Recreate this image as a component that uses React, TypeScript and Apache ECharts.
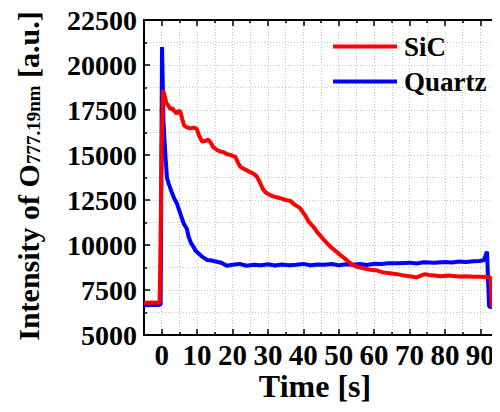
import React, { useEffect, useRef } from "react";
import * as echarts from "echarts";

const sicTime = [-5, -3, -1, -0.6, -0.4, 0, 0.4, 0.8, 1.3, 2, 2.5, 3, 3.5, 4.3, 4.8, 5.3, 5.8, 6.3, 7, 8, 9, 9.9, 10.5, 11.4, 12.3, 13.2, 13.8, 14.5, 15.6, 16.5, 17.5, 18.4, 19.5, 20.8, 21.5, 22.2, 23.5, 25, 26, 26.9, 27.8, 28.6, 29.5, 30.6, 31.5, 32.5, 33.5, 35, 36.3, 37.5, 39.1, 40.5, 41.5, 42.9, 44, 45.3, 46.7, 48, 49.2, 50.4, 51.4, 52.3, 53.5, 55, 57, 58.9, 60.5, 62.5, 64.5, 66.5, 68.5, 70.5, 72, 73, 74.3, 75.5, 77, 79, 81, 82.4, 84, 86, 88, 90, 91.9, 92.9, 93.3, 93.8, 94.4, 95];
const sicValue = [6780, 6800, 6790, 6800, 9000, 15500, 18600, 18300, 17900, 17700, 17550, 17600, 17450, 17300, 17450, 17400, 17000, 16650, 16550, 16480, 16520, 16450, 16100, 15750, 15780, 15850, 15700, 15450, 15280, 15200, 15150, 15050, 15000, 14900, 14600, 14350, 14200, 14050, 13950, 13800, 13450, 13100, 12900, 12780, 12700, 12650, 12600, 12500, 12450, 12250, 12050, 11650, 11300, 11000, 10700, 10400, 10100, 9850, 9650, 9450, 9300, 9150, 8950, 8800, 8700, 8620, 8600, 8480, 8430, 8380, 8300, 8250, 8200, 8280, 8380, 8330, 8300, 8260, 8300, 8280, 8250, 8270, 8240, 8230, 8220, 8200, 6600, 6520, 6620, 6650];

const quartzTime = [-5, -3, -1, -0.3, 0, 0.1, 0.3, 0.5, 1, 1.5, 2, 2.9, 3.5, 4.3, 5, 6.2, 7.1, 7.6, 8.3, 9, 9.5, 10.9, 11.4, 12.8, 13.7, 15.6, 17, 18.4, 20, 22, 24, 26, 28, 30, 32, 34, 36, 38, 40, 42, 44, 46, 48, 50, 52, 54, 56, 58, 60, 62, 64, 67, 70, 72, 74, 77, 80, 82, 84, 86, 88, 89.7, 91, 91.9, 92.2, 92.5, 93.5, 95];
const quartzValue = [6650, 6680, 6670, 6700, 18000, 21000, 19000, 16900, 15100, 13700, 13400, 12900, 12600, 12300, 11900, 11200, 10900, 10460, 10100, 9900, 9700, 9450, 9350, 9170, 9150, 9070, 9000, 8850, 8900, 8950, 8850, 8900, 8880, 8930, 8860, 8920, 8870, 8900, 8950, 8880, 8920, 8900, 8940, 8880, 8930, 8900, 8950, 8890, 8960, 8940, 8990, 8980, 9020, 8970, 9040, 9020, 9060, 9030, 9080, 9060, 9100, 9110, 9150, 9630, 8000, 6570, 6550, 6620];

const xTickLabels = [0, 10, 20, 30, 40, 50, 60, 70, 80, 90];
const yTickLabels = [5000, 7500, 10000, 12500, 15000, 17500, 20000, 22500];

const FONT = "Liberation Serif";

export default function App() {
  const ref = useRef<HTMLDivElement>(null);
  useEffect(() => {
    if (!ref.current) return;
    const chart = echarts.init(ref.current, undefined, { renderer: "svg" });
    const sic = sicTime.map((t, i) => [t, sicValue[i]]);
    const quartz = quartzTime.map((t, i) => [t, quartzValue[i]]);
    const gridLine = { show: true, lineStyle: { color: "#c4c4c4", width: 1, type: [1, 2] as any } };
    const axisLine = { show: true, onZero: false, lineStyle: { color: "#000", width: 2 } };
    const xBase = {
      type: "value" as const,
      min: -5,
      max: 95,
      splitNumber: 10,
      axisLine,
      axisTick: { show: true, inside: true, length: 6, lineStyle: { color: "#000", width: 1.5 } },
      minorTick: { show: true, splitNumber: 2, length: 3, lineStyle: { color: "#000", width: 1.5 } },
    };
    const yBase = {
      type: "value" as const,
      min: 5000,
      max: 22500,
      interval: 2500,
      axisLine,
      axisTick: { show: true, inside: true, length: 6, lineStyle: { color: "#000", width: 1.5 } },
      minorTick: { show: true, splitNumber: 2, length: 3, lineStyle: { color: "#000", width: 1.5 } },
    };
    chart.setOption({
      animation: false,
      grid: { left: 144, top: 20, right: 2, bottom: 77, containLabel: false },
      legend: {
        data: ["SiC", "Quartz"],
        orient: "vertical",
        left: 333,
        top: 33,
        padding: 0,
        itemGap: 8,
        itemWidth: 64,
        itemHeight: 4,
        icon: "rect",
        textStyle: { fontFamily: FONT, fontWeight: "bold", fontSize: 27, color: "#000", padding: [0, 0, 0, 2] },
      },
      xAxis: [
        {
          ...xBase,
          position: "bottom",
          splitLine: gridLine,
          minorSplitLine: gridLine,
          axisLabel: {
            show: true,
            margin: 8,
            fontFamily: FONT,
            fontWeight: "bold",
            fontSize: 29,
            lineHeight: 24,
            color: "#000",
            showMinLabel: false,
            showMaxLabel: false,
            formatter: (v: number) => (xTickLabels.includes(v) ? String(v) : ""),
          },
        },
        {
          ...xBase,
          position: "top",
          splitLine: { show: false },
          axisLabel: { show: false },
        },
      ],
      yAxis: [
        {
          ...yBase,
          position: "left",
          splitLine: gridLine,
          minorSplitLine: gridLine,
          axisLabel: {
            show: true,
            margin: 7,
            fontFamily: FONT,
            fontWeight: "bold",
            fontSize: 28,
            color: "#000",
            formatter: (v: number) => (yTickLabels.includes(v) ? String(v) : ""),
          },
        },
        {
          ...yBase,
          position: "right",
          splitLine: { show: false },
          axisLabel: { show: false },
        },
      ],
      graphic: [
        {
          type: "text",
          x: 315,
          y: 386,
          style: {
            text: "Time [s]",
            fontFamily: FONT,
            fontWeight: "bold",
            fontSize: 32,
            lineHeight: 30,
            fill: "#000",
            align: "center",
            verticalAlign: "middle",
          },
        },
        {
          type: "text",
          x: 28,
          y: 176,
          rotation: Math.PI / 2,
          style: {
            text: "{a|Intensity of O}{b|777.19nm}{a| [a.u.]}",
            align: "center",
            verticalAlign: "middle",
            fill: "#000",
            rich: {
              a: { fontFamily: FONT, fontWeight: "bold", fontSize: 30, lineHeight: 30, fill: "#000", verticalAlign: "bottom" },
              b: { fontFamily: FONT, fontWeight: "bold", fontSize: 19, lineHeight: 12, fill: "#000", verticalAlign: "bottom" },
            },
          },
        },
      ],
      series: [
        {
          name: "Quartz",
          type: "line",
          data: quartz,
          xAxisIndex: 0,
          yAxisIndex: 0,
          showSymbol: false,
          symbol: "none",
          lineStyle: { color: "#0000ff", width: 4 },
          itemStyle: { color: "#0000ff" },
        },
        {
          name: "SiC",
          type: "line",
          data: sic,
          xAxisIndex: 0,
          yAxisIndex: 0,
          showSymbol: false,
          symbol: "none",
          lineStyle: { color: "#ff0000", width: 4 },
          itemStyle: { color: "#ff0000" },
        },
      ],
    });
    return () => chart.dispose();
  }, []);
  return <div ref={ref} style={{ width: 500, height: 412, margin: -8 }} />;
}
